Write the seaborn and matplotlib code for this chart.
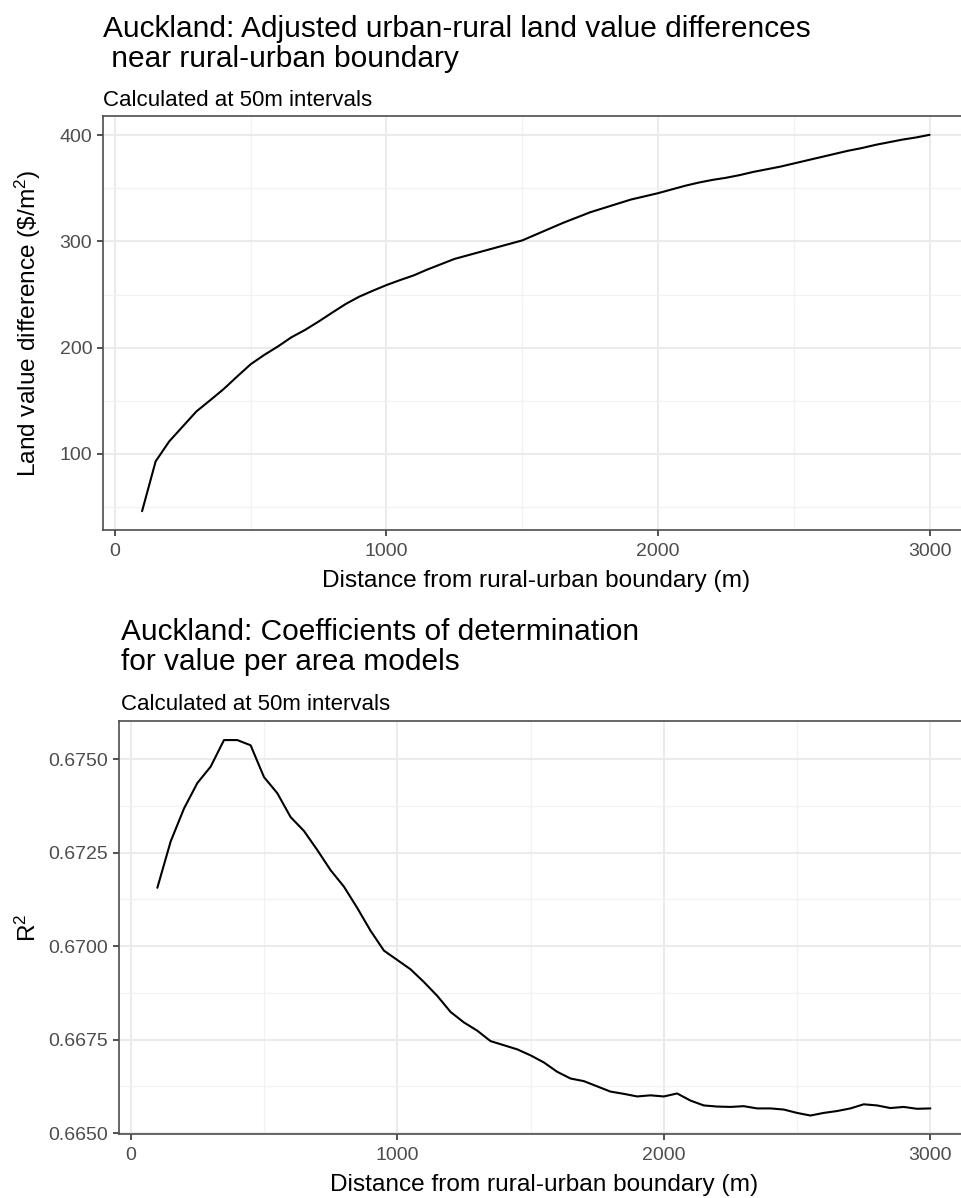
import numpy as np
import pandas as pd
import matplotlib
matplotlib.use("Agg")
import matplotlib.pyplot as plt
import seaborn as sns
from matplotlib.ticker import MultipleLocator, FormatStrFormatter

# distances at 50m steps
distance = list(range(100, 3001, 50))

land_value_diff = [
    45.8, 92.8, 111.6, 125.7, 139.8, 150.2, 160.8, 172.7, 184.3, 193.1,
    201.0, 209.7, 216.6, 224.5, 232.9, 241.1, 248.0, 253.6, 258.9, 263.6,
    268.0, 273.5, 278.5, 283.5, 287.0, 290.5, 294.0, 297.5, 301.0, 306.5,
    312.0, 317.5, 322.5, 327.5, 331.5, 335.5, 339.5, 342.5, 345.5, 349.0,
    352.5, 355.5, 358.0, 360.0, 362.5, 365.5, 368.0, 370.5, 373.5, 376.5,
    379.5, 382.5, 385.5, 388.0, 391.0, 393.5, 396.0, 398.0, 400.5,
]

r_squared = [
    0.67156, 0.67280, 0.67368, 0.67436, 0.67480, 0.67551, 0.67551, 0.67537,
    0.67452, 0.67409, 0.67345, 0.67308, 0.67257, 0.67203, 0.67159, 0.67102,
    0.67041, 0.66988, 0.66963, 0.66938, 0.66904, 0.66867, 0.66824, 0.66796,
    0.66774, 0.66746, 0.66735, 0.66724, 0.66708, 0.66689, 0.66664, 0.66646,
    0.66639, 0.66625, 0.66611, 0.66605, 0.66598, 0.66601, 0.66598, 0.66606,
    0.66587, 0.66574, 0.66571, 0.66570, 0.66572, 0.66566, 0.66566, 0.66563,
    0.66554, 0.66547, 0.66554, 0.66559, 0.66566, 0.66577, 0.66574, 0.66567,
    0.66570, 0.66565, 0.66566,
]

top_title = ["Auckland: Adjusted urban-rural land value differences", " near rural-urban boundary"]
bot_title = ["Auckland: Coefficients of determination", "for value per area models"]
subtitle = "Calculated at 50m intervals"
xlab = "Distance from rural-urban boundary (m)"

top_df = pd.DataFrame({"distance": distance, "value": land_value_diff})
bot_df = pd.DataFrame({"distance": distance, "r2": r_squared})

sns.set_theme(style="whitegrid")
plt.rcParams["font.family"] = ["Liberation Sans", "DejaVu Sans"]
plt.rcParams["mathtext.fontset"] = "custom"
plt.rcParams["mathtext.rm"] = "Liberation Sans"
plt.rcParams["mathtext.it"] = "Liberation Sans:italic"

W, H = 962, 1198
fig = plt.figure(figsize=(W / 100, H / 100), dpi=100)
fig.patch.set_facecolor("white")


def px_axes(left, top, right, bottom):
    return fig.add_axes([left / W, 1 - bottom / H, (right - left) / W, (bottom - top) / H])


def ftext(x, y, s, **kw):
    fig.text(x / W, 1 - y / H, s, color="black", ha="left", va="baseline", **kw)


def style(ax, xmajor, ymajor, ylabel, ycenter):
    ax.set_facecolor("white")
    ax.xaxis.set_major_locator(MultipleLocator(xmajor))
    ax.xaxis.set_minor_locator(MultipleLocator(xmajor / 2))
    ax.yaxis.set_major_locator(MultipleLocator(ymajor))
    ax.yaxis.set_minor_locator(MultipleLocator(ymajor / 2))
    ax.grid(True, which="major", color="#EBEBEB", linewidth=1.5)
    ax.grid(True, which="minor", color="#F2F2F2", linewidth=0.9)
    ax.set_axisbelow(True)
    for s in ax.spines.values():
        s.set_color("#4D4D4D")
        s.set_linewidth(1.2)
    ax.tick_params(which="major", length=4.5, width=1.2, color="#333333",
                   labelsize=14, labelcolor="#4D4D4D", pad=3,
                   bottom=True, left=True)
    ax.tick_params(axis="x", pad=4.5)
    ax.tick_params(which="minor", length=0)
    ax.set_xlabel(xlab, fontsize=17.6, color="black", labelpad=7.5)
    ax.set_ylabel(ylabel, fontsize=17.6, color="black")
    ax.yaxis.label.set_verticalalignment("center")
    ax.yaxis.set_label_coords(28 / W, 1 - ycenter / H, transform=fig.transFigure)


# top panel
ax1 = px_axes(102.7, 116, 969, 530)
sns.lineplot(data=top_df, x="distance", y="value", ax=ax1, color="black", linewidth=1.5)
style(ax1, 1000, 100, r"Land value difference (\$/m$^{2}$)", 323)
ftext(103, 37, top_title[0], fontsize=21.5)
ftext(103, 67, top_title[1], fontsize=21.5)
ftext(103, 106, subtitle, fontsize=16)

# bottom panel
ax2 = px_axes(118.7, 721.3, 969, 1134.3)
sns.lineplot(data=bot_df, x="distance", y="r2", ax=ax2, color="black", linewidth=1.5)
style(ax2, 1000, 0.0025, r"R$^{2}$", 928)
ax2.yaxis.set_major_formatter(FormatStrFormatter("%.4f"))
ftext(121, 640, bot_title[0], fontsize=21.5)
ftext(121, 670.5, bot_title[1], fontsize=21.5)
ftext(121, 710, subtitle, fontsize=16)

fig.savefig("out.png", dpi=100, facecolor="white")
